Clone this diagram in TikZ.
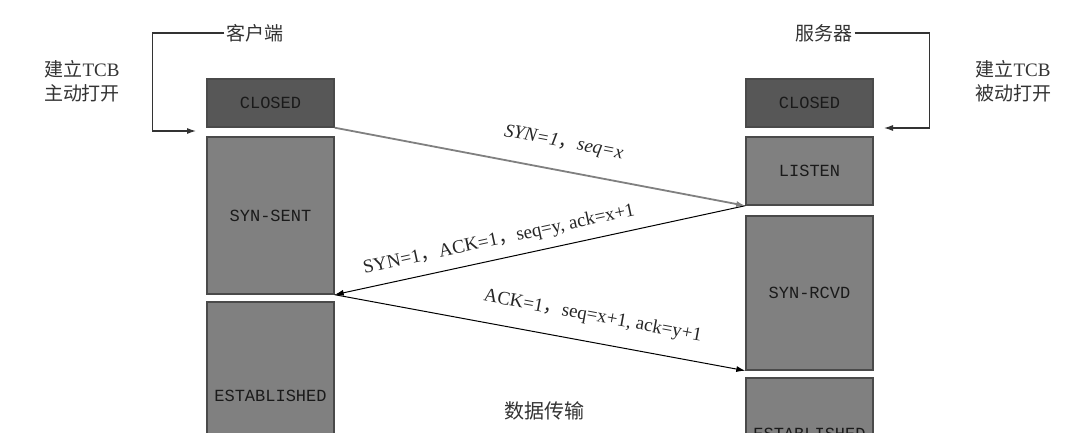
\documentclass[tikz,border=0pt]{standalone}
\usepackage{fontspec}
\setmainfont{Liberation Serif}
\setmonofont{Liberation Mono}
\newfontfamily\cjk{Noto Sans CJK SC}
\usetikzlibrary{arrows.meta}
\definecolor{darkbox}{HTML}{575757}
\definecolor{midbox}{HTML}{808080}
\definecolor{boxline}{HTML}{4A4A4A}
\definecolor{boxtext}{HTML}{1A1A1A}
\definecolor{linegray}{HTML}{333333}
\begin{document}
\begin{tikzpicture}[x=1pt,y=-1pt,
  state/.style={draw=boxline,line width=1.4pt,minimum width=127pt,inner sep=0pt,
    font=\ttfamily\fontsize{17}{17}\selectfont,text=boxtext},
  closedbox/.style={state,fill=darkbox,minimum height=48pt},
  greybox/.style={state,fill=midbox},
  cjklabel/.style={font=\cjk\fontsize{19}{24}\selectfont,text=black!80,inner sep=2pt,align=center},
  msg/.style={font=\fontsize{19}{19}\selectfont,text=black!85},
  bracket/.style={draw=linegray,line width=1.1pt,-{Latex[length=9pt,width=6pt]}},
  arr/.style={line width=1pt,-{Latex[length=9pt,width=6pt]}}]
\useasboundingbox (0,0) rectangle (1080,433);
\clip (0,0) rectangle (1080,433);
\fill[white] (0,0) rectangle (1080,433);
% left column
\node[closedbox] (lclosed) at (270.5,103) {CLOSED};
\node[greybox,minimum height=157pt] (synsent) at (270.5,215.5) {SYN-SENT};
\node[greybox,minimum height=188pt] (lest) at (270.5,396) {ESTABLISHED};
% right column
\node[closedbox] (rclosed) at (809.5,103) {CLOSED};
\node[greybox,minimum height=68pt] (listen) at (809.5,171) {LISTEN};
\node[greybox,minimum height=154pt] (synrcvd) at (809.5,293) {SYN-RCVD};
\node[greybox,minimum height=112pt] (rest) at (809.5,434) {ESTABLISHED};
% titles
\node[cjklabel] (client) at (255,33) {客户端};
\node[cjklabel] (server) at (824,33) {服务器};
\node[cjklabel] (lopen) at (82,81) {建立\textrm{TCB}\\主动打开};
\node[cjklabel] (ropen) at (1013,81) {建立\textrm{TCB}\\被动打开};
\node[cjklabel,font=\cjk\fontsize{20}{24}\selectfont] (data) at (544,411) {数据传输};
% brackets
\coordinate (lc) at (196,131);
\coordinate (rc) at (884,128);
\draw[bracket] (client.west) -- ++(-72,0) |- (lc);
\draw[bracket] (server.east) -- ++(75,0) |- (rc);
% messages
\draw[arr,draw=midbox,line width=1.8pt,-{Latex[length=9pt,width=6pt]}] (lclosed.south east) -- (listen.south west)
  node[msg,pos=0.545,sloped,above=15pt] {\textit{SYN=1}{\cjk ，}\textit{seq=x}};
\draw[arr,{Latex[length=9pt,width=6pt]}-] (synsent.south east) -- (listen.south west)
  node[msg,pos=0.41,sloped,above=6pt] {SYN=1{\cjk ，}ACK=1{\cjk ，}seq=y, ack=x+1};
\draw[arr] (synsent.south east) -- (synrcvd.south west)
  node[msg,pos=0.617,sloped,above=13pt] {ACK=1{\cjk ，}seq=x+1, ack=y+1};
\end{tikzpicture}
\end{document}
